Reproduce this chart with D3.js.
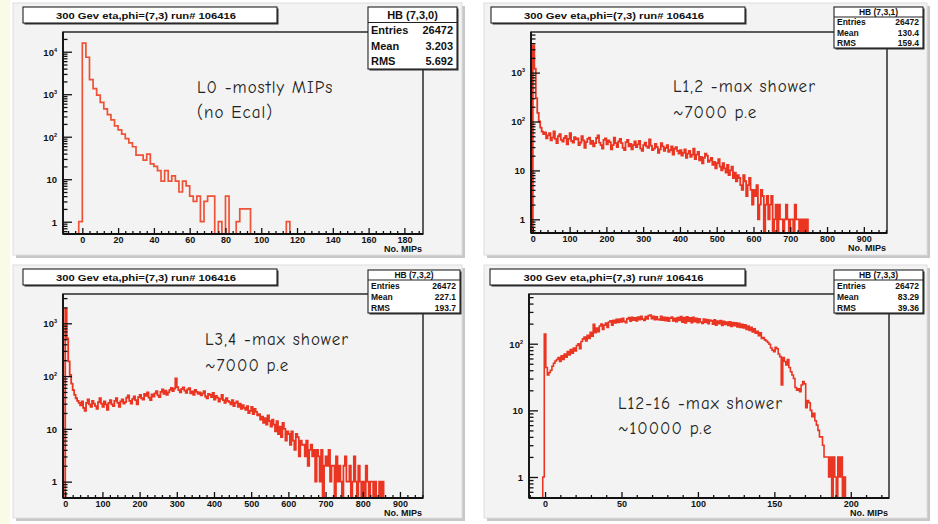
<!DOCTYPE html>
<html>
<head>
<meta charset="utf-8">
<script src="https://cdn.jsdelivr.net/npm/d3@7"></script>
<style>
  body { margin: 0; background: #ffffff; }
  svg { display: block; }
</style>
</head>
<body>
<svg id="chart" width="938" height="524"></svg>
<script>
// ---------------- data ----------------
const titleText = "300 Gev eta,phi=(7,3) run# 106416";
const xAxisTitle = "No. MIPs";
const statNames = ["Entries", "Mean", "RMS"];

// HB (7,3,0): layer 0
const l0Name = "HB (7,3,0)";
const l0Stats = ["26472", "3.203", "5.692"];
const l0Notes = ["L0 -mostly MIPs", "(no Ecal)"];
const l0BinStart = -10, l0BinWidth = 2;
const l0Counts = [
  0, 0, 0, 0, 1, 16000, 7400, 2200, 1350, 950,
  640, 450, 330, 250, 180, 145, 115, 90, 72, 58,
  37, 37, 28, 39, 23, 20, 16, 9, 16, 9,
  12, 9, 5, 9, 7, 4, 3, 4, 1, 3,
  4, 4, 0, 1, 0, 4, 0, 0, 1, 2,
  2, 2, 0, 0, 0, 0, 0, 0, 0, 0,
  0, 0, 1, 0, 0, 0, 0, 0, 0, 0,
  0, 0, 0, 0, 0, 0, 0, 0, 0, 0,
  0, 0, 0, 0, 0, 0, 0, 0, 0, 0,
  0, 0, 0, 0, 0, 0, 0, 0, 0, 0
];
const l0XTicks = [0, 20, 40, 60, 80, 100, 120, 140, 160, 180];
const l0YTicks = [1, 10, 100, 1000, 10000];

// HB (7,3,1): layers 1,2
const l12Name = "HB (7,3,1)";
const l12Stats = ["26472", "130.4", "159.4"];
const l12Notes = ["L1,2 -max shower", "~7000 p.e"];
const l12BinStart = 0, l12BinWidth = 4;
const l12Counts = [
  3600, 1200, 300, 150, 100, 75, 62, 55, 60, 45,
  52, 58, 41, 47, 63, 44, 36, 50, 55, 42,
  39, 46, 51, 34, 44, 58, 40, 37, 48, 43,
  45, 33, 37, 50, 41, 29, 38, 44, 47, 35,
  40, 31, 36, 46, 52, 37, 33, 28, 42, 45,
  34, 41, 38, 27, 33, 47, 36, 30, 39, 44,
  36, 29, 26, 38, 42, 31, 35, 27, 33, 39,
  30, 34, 40, 28, 25, 33, 37, 31, 29, 43,
  32, 26, 28, 35, 30, 23, 27, 36, 31, 25,
  29, 33, 24, 26, 31, 21, 28, 30, 25, 22,
  26, 20, 23, 27, 18, 22, 25, 19, 21, 28,
  17, 21, 24, 16, 19, 14, 18, 22, 20, 15,
  16, 18, 13, 15, 11, 14, 17, 12, 10, 14,
  11, 9, 13, 8, 10, 12, 7, 9, 6, 8,
  7, 5, 4, 8, 6, 3, 5, 7, 4, 2,
  4, 3, 5, 1, 2, 4, 3, 0, 2, 3,
  1, 2, 3, 0, 1, 2, 0, 2, 1, 1,
  0, 1, 2, 1, 0, 1, 1, 0, 2, 1,
  1, 0, 1, 0, 1, 0, 1, 0, 0, 0
];
const l12XTicks = [0, 100, 200, 300, 400, 500, 600, 700, 800, 900];
const l12YTicks = [1, 10, 100, 1000];

// HB (7,3,2): layers 3,4
const l34Name = "HB (7,3,2)";
const l34Stats = ["26472", "227.1", "193.7"];
const l34Notes = ["L3,4 -max shower", "~7000 p.e"];
const l34BinStart = 0, l34BinWidth = 4;
const l34Counts = [
  1900, 520, 190, 105, 72, 54, 44, 38, 34, 31,
  28, 33, 25, 22, 31, 36, 29, 26, 34, 30,
  27, 24, 32, 38, 30, 26, 33, 29, 23, 31,
  35, 29, 27, 34, 38, 31, 26, 33, 36, 30,
  32, 39, 43, 34, 30, 37, 41, 35, 29, 40,
  44, 38, 36, 46, 42, 49, 39, 35, 45, 41,
  47, 52, 43, 40, 50, 56, 46, 53, 44, 49,
  55, 60, 52, 58, 90, 62, 54, 49, 57, 61,
  53, 48, 56, 59, 47, 51, 44, 55, 50, 46,
  49, 43, 47, 52, 41, 38, 46, 44, 40, 48,
  36, 42, 39, 33, 37, 44, 35, 31, 38, 34,
  32, 29, 35, 27, 31, 33, 26, 30, 24, 28,
  25, 23, 27, 20, 22, 26, 19, 24, 21, 18,
  19, 15, 17, 13, 16, 12, 18, 14, 11, 15,
  12, 9, 14, 8, 11, 7, 13, 10, 6, 9,
  8, 5, 9, 6, 4, 8, 7, 3, 6, 5,
  5, 3, 6, 2, 4, 5, 3, 4, 1, 4,
  3, 1, 4, 0, 2, 3, 2, 4, 1, 2,
  2, 0, 3, 1, 2, 1, 0, 2, 3, 1,
  1, 2, 0, 1, 3, 1, 0, 2, 1, 0,
  1, 0, 2, 1, 0, 1, 1, 0, 1, 0,
  0, 1, 0, 1, 0, 0, 0, 0, 0, 0
];
const l34XTicks = [0, 100, 200, 300, 400, 500, 600, 700, 800, 900];
const l34YTicks = [1, 10, 100, 1000];

// HB (7,3,3): layers 12-16
const l1216Name = "HB (7,3,3)";
const l1216Stats = ["26472", "83.29", "39.36"];
const l1216Notes = ["L12-16 -max shower", "~10000 p.e"];
const l1216BinStart = -1.5, l1216BinWidth = 1;
const l1216Counts = [
  1, 140, 44, 34, 37, 40, 46, 51, 55, 58,
  62, 54, 66, 58, 70, 63, 76, 68, 82, 72,
  86, 78, 94, 100, 84, 108, 118, 126, 110, 134,
  120, 148, 130, 196, 146, 172, 152, 184, 198, 164,
  190, 204, 176, 212, 220, 190, 224, 204, 232, 208,
  234, 212, 240, 216, 206, 236, 246, 218, 250, 226,
  244, 220, 252, 230, 258, 234, 224, 256, 236, 264,
  270, 238, 258, 230, 254, 232, 228, 258, 226, 248,
  222, 246, 218, 242, 252, 220, 240, 214, 246, 224,
  256, 210, 246, 204, 254, 218, 244, 206, 248, 214,
  240, 206, 236, 212, 202, 234, 208, 230, 200, 226,
  220, 196, 228, 190, 218, 200, 222, 188, 216, 194,
  212, 188, 214, 182, 208, 186, 206, 178, 202, 176,
  196, 172, 192, 164, 184, 158, 176, 150, 168, 144,
  154, 132, 146, 120, 124, 114, 110, 104, 98, 86,
  80, 76, 88, 84, 70, 64, 24, 62, 54, 48,
  58, 44, 38, 34, 30, 22, 20, 21, 19, 24,
  27, 25, 11, 14, 13, 10, 8, 9, 7, 6,
  5, 4, 4, 3, 2, 2, 2, 1, 2, 0,
  2, 1, 0, 2, 1, 2, 0, 1
];
const l1216XTicks = [0, 50, 100, 150, 200];
const l1216YTicks = [1, 10, 100];

// ---------------- layout ----------------
const svg = d3.select("#chart");
const FONT = "'Liberation Sans', Arial, Helvetica, sans-serif";
const NOTE_FONT = "'Comic Sans MS', 'Comic Neue', 'Open Sans', sans-serif";

svg.append("rect").attr("x", 0).attr("y", 0).attr("width", 938).attr("height", 524).attr("fill", "#ffffff");
svg.append("rect").attr("x", 0).attr("y", 0).attr("width", 10).attr("height", 524).attr("fill", "#f9fbe7");

const panels = [
  {
    name: l0Name, stats: l0Stats, notes: l0Notes,
    start: l0BinStart, width: l0BinWidth, counts: l0Counts,
    xTicks: l0XTicks, yTicks: l0YTicks, xMinorStep: 4,
    pad: { x: 13, y: 3, w: 452, h: 255 },
    frame: { x0: 63, y0: 32, x1: 423, y1: 234 },
    xDomain: [-10.8, 190.4], yDomain: [0.514, 29100],
    title: { x0: 23, y0: 7, x1: 277, y1: 23 },
    box: { x0: 368, y0: 7, x1: 457, y1: 69, sep: 22.5, size: 11 },
    note: { x: 197, y: 93, dy: 25 },
    color: "#ef5236", lw: 1.7
  },
  {
    name: l12Name, stats: l12Stats, notes: l12Notes,
    start: l12BinStart, width: l12BinWidth, counts: l12Counts,
    xTicks: l12XTicks, yTicks: l12YTicks, xMinorStep: 20,
    pad: { x: 484, y: 3, w: 446, h: 255 },
    frame: { x0: 531, y0: 32, x1: 887, y1: 233 },
    xDomain: [-5, 963], yDomain: [0.525, 6770],
    title: { x0: 491, y0: 7, x1: 745, y1: 23 },
    box: { x0: 834, y0: 7, x1: 923, y1: 48, sep: 17, size: 8.5 },
    note: { x: 673, y: 92, dy: 26 },
    color: "#ea3523", lw: 1.8
  },
  {
    name: l34Name, stats: l34Stats, notes: l34Notes,
    start: l34BinStart, width: l34BinWidth, counts: l34Counts,
    xTicks: l34XTicks, yTicks: l34YTicks, xMinorStep: 20,
    pad: { x: 13, y: 265, w: 452, h: 256 },
    frame: { x0: 63, y0: 294, x1: 423, y1: 498 },
    xDomain: [-6, 962], yDomain: [0.49, 3590],
    title: { x0: 23, y0: 269, x1: 277, y1: 285 },
    box: { x0: 368, y0: 270, x1: 460, y1: 313, sep: 280, size: 8.5 },
    note: { x: 205, y: 345, dy: 26 },
    color: "#ea3523", lw: 1.8
  },
  {
    name: l1216Name, stats: l1216Stats, notes: l1216Notes,
    start: l1216BinStart, width: l1216BinWidth, counts: l1216Counts,
    xTicks: l1216XTicks, yTicks: l1216YTicks, xMinorStep: 10,
    pad: { x: 484, y: 265, w: 446, h: 256 },
    frame: { x0: 529, y0: 294, x1: 889, y1: 498 },
    xDomain: [-10.5, 225], yDomain: [0.484, 557],
    title: { x0: 490, y0: 269, x1: 745, y1: 285 },
    box: { x0: 834, y0: 270, x1: 923, y1: 313, sep: 280, size: 8.5 },
    note: { x: 618, y: 409, dy: 25 },
    color: "#ea3523", lw: 1.6
  }
];

panels.forEach((p, idx) => drawPanel(p, idx));

function drawPanel(p, idx) {
  const g = svg.append("g");
  const P = p.pad;
  // canvas pad with bevel shadow
  g.append("rect").attr("x", P.x + 3).attr("y", P.y + 3).attr("width", P.w - 3).attr("height", P.h - 3).attr("fill", "#c7c7c7");
  g.append("rect").attr("x", P.x).attr("y", P.y).attr("width", P.w - 3).attr("height", P.h - 3)
    .attr("fill", "#f3f3f3").attr("stroke", "#dedede").attr("stroke-width", 1);

  const F = p.frame;
  const x = d3.scaleLinear().domain(p.xDomain).range([F.x0, F.x1]);
  const y = d3.scaleLog().domain(p.yDomain).range([F.y1, F.y0]);
  const yMin = p.yDomain[0];

  // clip region of the frame
  const clipId = "clip" + idx;
  svg.append("clipPath").attr("id", clipId).append("rect")
    .attr("x", F.x0).attr("y", F.y0 - 1).attr("width", F.x1 - F.x0).attr("height", F.y1 - F.y0 + 1);

  // histogram outline as steps
  const pts = [[p.start, 0]];
  p.counts.forEach((c, i) => pts.push([p.start + i * p.width, c]));
  const xEnd = p.start + p.counts.length * p.width;
  pts.push([xEnd, p.counts[p.counts.length - 1]]);
  pts.push([xEnd, 0]);
  pts.push([p.xDomain[1] + 10, 0]);
  const line = d3.line()
    .x(d => x(d[0]))
    .y(d => y(Math.max(d[1], yMin * 0.9)))
    .curve(d3.curveStepAfter);
  g.append("path").attr("d", line(pts))
    .attr("clip-path", `url(#${clipId})`)
    .attr("fill", "none").attr("stroke", p.color).attr("stroke-width", p.lw)
    .attr("stroke-linejoin", "miter");

  // frame border (top and right)
  g.append("rect").attr("x", F.x0).attr("y", F.y0).attr("width", F.x1 - F.x0).attr("height", F.y1 - F.y0)
    .attr("fill", "none").attr("stroke", "#2a2a2a").attr("stroke-width", 1.5);

  // x axis: major, secondary ticks
  const xMajor = d3.axisBottom(x).tickValues(p.xTicks).tickSize(-6).tickPadding(3).tickFormat(d3.format("d"));
  const xMinorVals = d3.range(Math.ceil(p.xDomain[0] / p.xMinorStep) * p.xMinorStep, p.xDomain[1], p.xMinorStep)
    .filter(v => !p.xTicks.includes(v));
  const xMinor = d3.axisBottom(x).tickValues(xMinorVals).tickSize(-3).tickFormat("");
  const gx = g.append("g").attr("transform", `translate(0,${F.y1})`);
  gx.call(xMinor);
  const gx2 = g.append("g").attr("transform", `translate(0,${F.y1})`).call(xMajor);
  [gx, gx2].forEach(a => {
    a.select(".domain").remove();
    a.selectAll(".tick line").attr("stroke", "#111").attr("stroke-width", 1.3);
  });
  gx2.selectAll(".tick text").attr("font-family", FONT).attr("font-weight", "bold")
    .attr("font-size", 9).attr("fill", "#111");

  // y axis: decades and 2..9 minors
  const yMinorVals = [];
  const d0 = Math.floor(Math.log10(p.yDomain[0])), d1 = Math.ceil(Math.log10(p.yDomain[1]));
  for (let e = d0; e <= d1; e++) {
    for (let m = 2; m <= 9; m++) {
      const v = m * Math.pow(10, e);
      if (v >= p.yDomain[0] && v <= p.yDomain[1]) yMinorVals.push(v);
    }
  }
  const gy = g.append("g").attr("transform", `translate(${F.x0},0)`)
    .call(d3.axisLeft(y).tickValues(yMinorVals).tickSize(-4.5).tickFormat(""));
  const gy2 = g.append("g").attr("transform", `translate(${F.x0},0)`)
    .call(d3.axisLeft(y).tickValues(p.yTicks).tickSize(-9).tickFormat(""));
  [gy, gy2].forEach(a => {
    a.select(".domain").remove();
    a.selectAll(".tick line").attr("stroke", "#111").attr("stroke-width", 1.3);
  });
  gy2.selectAll(".tick").each(function (v) {
    const t = d3.select(this).append("text")
      .attr("x", -6).attr("dy", "0.35em").attr("text-anchor", "end")
      .attr("font-family", FONT).attr("font-weight", "bold").attr("font-size", 9.5).attr("fill", "#111");
    const e = Math.round(Math.log10(v));
    if (e < 2) {
      t.text(String(v));
    } else {
      t.append("tspan").text("10");
      t.append("tspan").attr("font-size", 5.5).attr("dy", -4).text(String(e));
    }
  });

  // axis lines
  g.append("line").attr("x1", F.x0).attr("x2", F.x1).attr("y1", F.y1).attr("y2", F.y1)
    .attr("stroke", "#111").attr("stroke-width", 1.8);
  g.append("line").attr("x1", F.x0).attr("x2", F.x0).attr("y1", F.y0).attr("y2", F.y1)
    .attr("stroke", "#111").attr("stroke-width", 1.8);

  // axis title
  g.append("text").attr("x", F.x1 - 1).attr("y", F.y1 + 18).attr("text-anchor", "end")
    .attr("font-family", FONT).attr("font-weight", "bold").attr("font-size", 9).attr("fill", "#111")
    .text(xAxisTitle);

  // title box
  const T = p.title;
  g.append("rect").attr("x", T.x0 + 1.5).attr("y", T.y0 + 1.5).attr("width", T.x1 - T.x0).attr("height", T.y1 - T.y0)
    .attr("fill", "#333");
  g.append("rect").attr("x", T.x0).attr("y", T.y0).attr("width", T.x1 - T.x0).attr("height", T.y1 - T.y0)
    .attr("fill", "#ffffff").attr("stroke", "#222").attr("stroke-width", 1.1);
  g.append("text").attr("x", (T.x0 + T.x1) / 2 - 4).attr("y", (T.y0 + T.y1) / 2 + 3.5)
    .attr("text-anchor", "middle").attr("font-family", FONT).attr("font-weight", "bold")
    .attr("font-size", 9.5).attr("fill", "#111")
    .attr("textLength", 180).attr("lengthAdjust", "spacingAndGlyphs")
    .text(titleText);

  // statistics box
  const B = p.box;
  g.append("rect").attr("x", B.x0 + 1.5).attr("y", B.y0 + 1.5).attr("width", B.x1 - B.x0).attr("height", B.y1 - B.y0)
    .attr("fill", "#333");
  g.append("rect").attr("x", B.x0).attr("y", B.y0).attr("width", B.x1 - B.x0).attr("height", B.y1 - B.y0)
    .attr("fill", "#ffffff").attr("stroke", "#222").attr("stroke-width", 1.1);
  const sepY = B.sep;
  g.append("line").attr("x1", B.x0).attr("x2", B.x1).attr("y1", sepY).attr("y2", sepY)
    .attr("stroke", "#222").attr("stroke-width", 1.1);
  const headCy = (B.y0 + sepY) / 2;
  g.append("text").attr("x", (B.x0 + B.x1) / 2).attr("y", headCy).attr("dy", "0.36em")
    .attr("text-anchor", "middle").attr("font-family", FONT).attr("font-weight", "bold")
    .attr("font-size", B.size).attr("fill", "#111").text(p.name);
  const rowH = (B.y1 - sepY) / 3;
  statNames.forEach((nm, i) => {
    const cy = sepY + rowH * (i + 0.5);
    g.append("text").attr("x", B.x0 + 3).attr("y", cy).attr("dy", "0.36em")
      .attr("font-family", FONT).attr("font-weight", "bold").attr("font-size", B.size).attr("fill", "#111").text(nm);
    g.append("text").attr("x", B.x1 - 4).attr("y", cy).attr("dy", "0.36em").attr("text-anchor", "end")
      .attr("font-family", FONT).attr("font-weight", "bold").attr("font-size", B.size).attr("fill", "#111").text(p.stats[i]);
  });

  // annotation
  p.notes.forEach((s, i) => {
    g.append("text").attr("x", p.note.x).attr("y", p.note.y + i * p.note.dy)
      .attr("font-family", NOTE_FONT).attr("font-size", 17).attr("letter-spacing", 1.05)
      .attr("fill", "#222").text(s);
  });
}
</script>
</body>
</html>
